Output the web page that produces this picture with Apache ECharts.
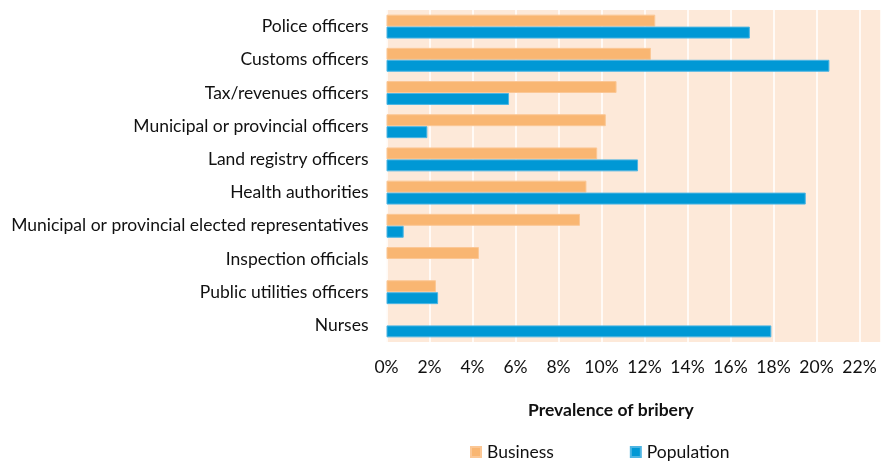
<!DOCTYPE html>
<html>
<head>
<meta charset="utf-8">
<script src="https://cdn.jsdelivr.net/npm/echarts@6/dist/echarts.min.js"></script>
<style>html,body{margin:0;padding:0;background:#fff}#c{width:881px;height:462px}</style>
</head>
<body>
<div id="c"></div>
<script>
const categories = ["Police officers","Customs officers","Tax/revenues officers","Municipal or provincial officers","Land registry officers","Health authorities","Municipal or provincial elected representatives","Inspection officials","Public utilities officers","Nurses"];
const business = [12.5, 12.3, 10.7, 10.2, 9.8, 9.3, 9.0, 4.3, 2.3, null];
const population = [16.9, 20.6, 5.7, 1.9, 11.7, 19.5, 0.8, null, 2.4, 17.9];
const xTicks = [0,2,4,6,8,10,12,14,16,18,20,22];

const FONT = 'Lato';
const FS = 17.5;
const chart = echarts.init(document.getElementById('c'), null, {renderer:'canvas'});
chart.setOption({
  animation: false,
  backgroundColor: '#fff',
  textStyle: {fontFamily: FONT},
  title: {
    text: 'Prevalence of bribery',
    left: 528, top: 401, padding: 0,
    textStyle: {fontFamily: FONT, fontSize: FS, fontWeight: 'bold', color: '#111'}
  },
  legend: {
    data: ['Business','Population'],
    left: 470, top: 443, padding: 0,
    itemWidth: 10, itemHeight: 10, itemGap: 76,
    icon: 'rect',
    textStyle: {fontFamily: FONT, fontSize: FS, color: '#111', padding:[0,0,0,1]}
  },
  grid: {left: 386.5, right: 0, top: 10, bottom: 120, containLabel: false,
    show: true, backgroundColor: '#FDE9D9', borderWidth: 0},
  xAxis: {
    type: 'value', min: 0, max: 23, interval: 2,
    axisLine: {show: false}, axisTick: {show: false},
    splitLine: {show: true, lineStyle: {color: '#ffffff', width: 1.5}},
    axisLabel: {
      fontFamily: FONT, fontSize: FS, color: '#111', margin: 16,
      showMaxLabel: false,
      formatter: v => xTicks.indexOf(v) >= 0 ? v + '%' : ''
    }
  },
  yAxis: {
    type: 'category', data: categories, inverse: true,
    axisLine: {show: false}, axisTick: {show: false},
    axisLabel: {fontFamily: FONT, fontSize: FS, color: '#111', margin: 18}
  },
  series: [
    {name: 'Business', type: 'bar', data: business, barGap: '0%', barCategoryGap: '28%',
      itemStyle: {color: '#F9B672', borderColor: '#FBC795', borderWidth: 1}},
    {name: 'Population', type: 'bar', data: population, barGap: '0%', barCategoryGap: '28%',
      itemStyle: {color: '#0098D5', borderColor: '#4DB5E3', borderWidth: 1}}
  ]
});
</script>
</body>
</html>
